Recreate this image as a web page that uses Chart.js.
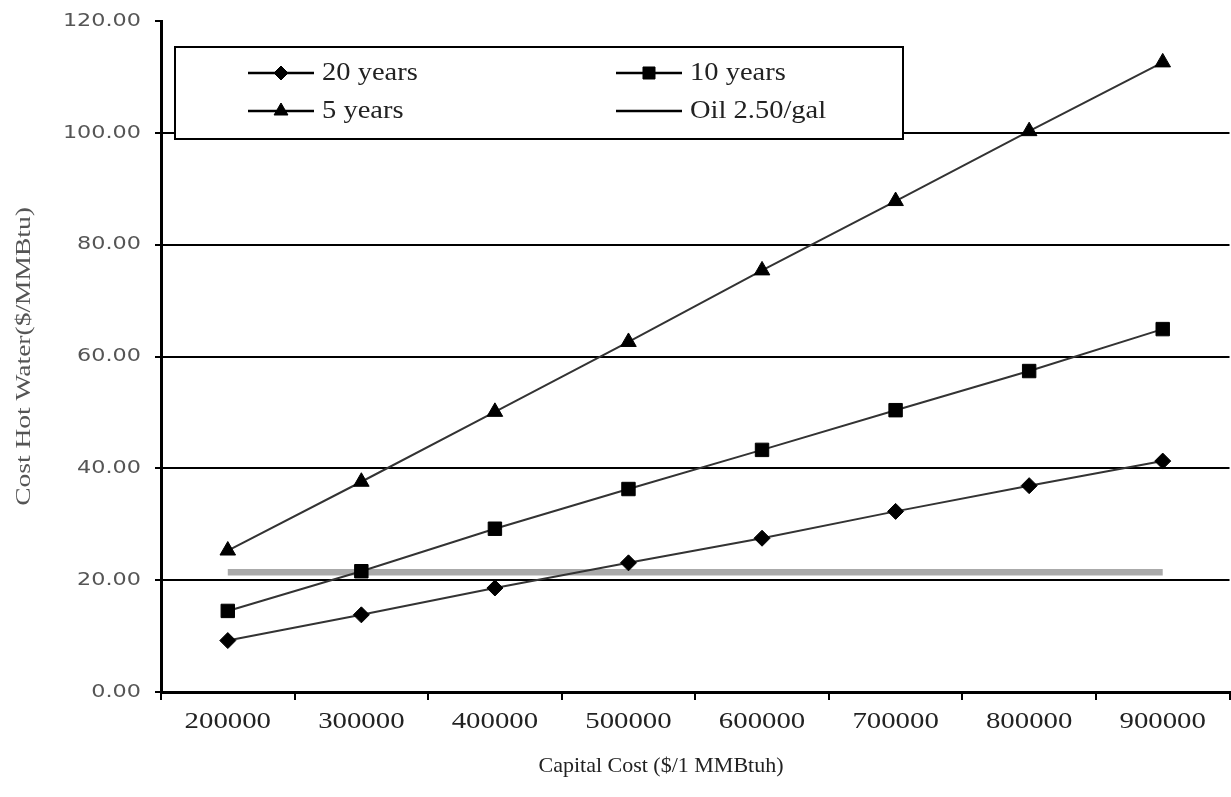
<!DOCTYPE html>
<html>
<head>
<meta charset="utf-8">
<script src="https://cdn.jsdelivr.net/npm/chart.js@4"></script>
<style>
  html, body { margin: 0; padding: 0; background: #fff; overflow: hidden; }
  #wrap { width: 1240px; height: 797px; position: relative; }
</style>
</head>
<body>
<div id="wrap"><canvas id="myChart" width="1240" height="797"></canvas></div>
<script>
// capital cost categories
var capitalCost = ['200000', '300000', '400000', '500000', '600000', '700000', '800000', '900000'];
// cost of hot water per payback period
var years20 = [9.2, 13.8, 18.6, 23.1, 27.5, 32.3, 36.9, 41.3];
var years10 = [14.5, 21.6, 29.2, 36.3, 43.3, 50.4, 57.4, 64.9];
var years5 = [25.3, 37.6, 50.1, 62.6, 75.4, 87.8, 100.3, 112.6];
var oil = [21.4, 21.4, 21.4, 21.4, 21.4, 21.4, 21.4, 21.4];
var yTicks = [0, 20, 40, 60, 80, 100, 120];

var seriesNames = ['20 years', '10 years', '5 years', 'Oil 2.50/gal'];

// text in the picture is stretched sideways, so draw it with a x-scale
function stretchText(c, txt, x, y, font, sx, align, color) {
  c.save();
  c.font = font;
  c.fillStyle = color;
  c.textBaseline = 'middle';
  c.textAlign = 'left';
  var w = c.measureText(txt).width * sx;
  var x0 = align === 'right' ? x - w : (align === 'center' ? x - w / 2 : x);
  c.translate(x0, y);
  c.scale(sx, 1);
  c.fillText(txt, 0, 0);
  c.restore();
}

var extras = {
  id: 'extras',
  afterDraw: function (chart) {
    var c = chart.ctx;
    var xs = chart.scales.x, ys = chart.scales.y;

    // tick labels
    capitalCost.forEach(function (lab, i) {
      stretchText(c, lab, xs.getPixelForTick(i), 722, '24px "Liberation Serif"', 1.2, 'center', '#222');
    });
    yTicks.forEach(function (v) {
      stretchText(c, v.toFixed(2), 141, ys.getPixelForValue(v), '18px "DejaVu Sans"', 1.24, 'right', '#555');
    });

    // axis titles
    c.save();
    c.translate(24, (chart.chartArea.top + chart.chartArea.bottom) / 2);
    c.rotate(-Math.PI / 2);
    stretchText(c, 'Cost Hot Water($/MMBtu)', 0, 0, '22px "Liberation Serif"', 1.25, 'center', '#555');
    c.restore();
    stretchText(c, 'Capital Cost ($/1 MMBtuh)', 661, 766, '22px "Liberation Serif"', 1.0, 'center', '#222');

    // legend box
    c.save();
    c.fillStyle = '#fff';
    c.fillRect(175, 47, 728, 92);
    c.strokeStyle = '#000';
    c.lineWidth = 2;
    c.strokeRect(175, 47, 728, 92);

    var items = [
      { x: 248, y: 73, ds: 0 },
      { x: 616, y: 73, ds: 1 },
      { x: 248, y: 111, ds: 2 },
      { x: 616, y: 111, ds: 3 }
    ];
    items.forEach(function (it) {
      var ds = chart.data.datasets[it.ds];
      c.strokeStyle = '#000';
      c.lineWidth = 2.5;
      c.beginPath();
      c.moveTo(it.x, it.y);
      c.lineTo(it.x + 66, it.y);
      c.stroke();
      if (ds.pointRadius > 0) {
        c.fillStyle = '#000';
        c.lineWidth = 1;
        Chart.helpers.drawPoint(c, {
          pointStyle: ds.pointStyle,
          radius: ds.pointRadius - 1,
          borderWidth: 1
        }, it.x + 33, it.y);
      }
      stretchText(c, ds.label, it.x + 74, it.y, '25px "Liberation Serif"', 1.14, 'left', '#222');
    });
    c.restore();
  }
};

var ctx = document.getElementById('myChart').getContext('2d');
var chart = new Chart(ctx, {
  type: 'line',
  data: {
    labels: capitalCost,
    datasets: [{
      label: seriesNames[0],
      data: years20,
      borderColor: '#333',
      backgroundColor: '#000',
      pointBorderColor: '#000',
      borderWidth: 2,
      pointStyle: 'rectRot',
      pointRadius: 8,
      pointBorderWidth: 1,
      order: 1
    }, {
      label: seriesNames[1],
      data: years10,
      borderColor: '#333',
      backgroundColor: '#000',
      pointBorderColor: '#000',
      borderWidth: 2,
      pointStyle: 'rect',
      pointRadius: 9.5,
      pointBorderWidth: 1,
      order: 1
    }, {
      label: seriesNames[2],
      data: years5,
      borderColor: '#333',
      backgroundColor: '#000',
      pointBorderColor: '#000',
      borderWidth: 2,
      pointStyle: 'triangle',
      pointRadius: 9,
      pointBorderWidth: 1,
      order: 1
    }, {
      label: seriesNames[3],
      data: oil,
      borderColor: '#aaa',
      borderWidth: 6.5,
      pointRadius: 0,
      order: 2
    }]
  },
  options: {
    responsive: false,
    animation: false,
    layout: { padding: { top: 21, right: 3, left: 0, bottom: 0 } },
    plugins: {
      legend: { display: false },
      tooltip: { enabled: false }
    },
    scales: {
      x: {
        type: 'category',
        offset: true,
        border: { color: '#000', width: 3 },
        grid: {
          offset: true,
          drawOnChartArea: false,
          color: '#000',
          lineWidth: 2,
          tickLength: 8
        },
        ticks: { display: false, autoSkip: false, maxRotation: 0 },
        afterFit: function (scale) { scale.height = 105; }
      },
      y: {
        min: 0,
        max: 120,
        afterBuildTicks: function (scale) {
          scale.ticks = yTicks.map(function (v) { return { value: v }; });
        },
        border: { color: '#000', width: 3 },
        grid: {
          color: function (c) {
            return (c.tick && c.tick.value === 120) ? 'rgba(0,0,0,0)' : '#000';
          },
          tickColor: '#000',
          lineWidth: 2,
          tickLength: 6
        },
        ticks: { display: false },
        afterFit: function (scale) { scale.width = 161; }
      }
    }
  },
  plugins: [extras]
});
</script>
</body>
</html>
